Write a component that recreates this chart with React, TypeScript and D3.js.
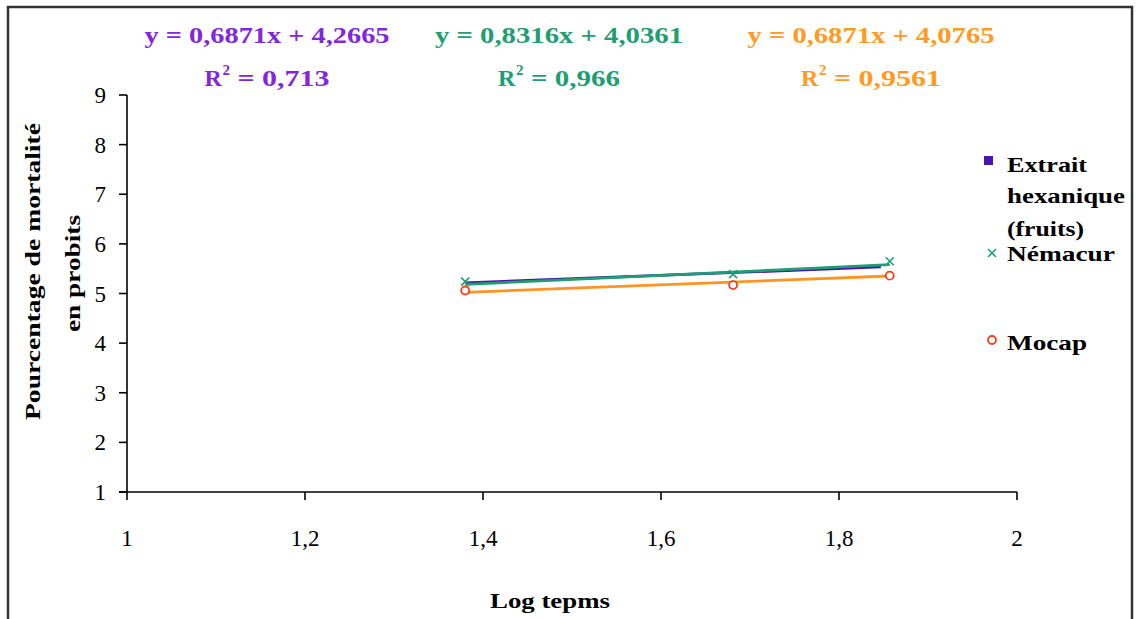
import React from "react";
import * as d3 from "d3";

const logTime = [1.38, 1.681, 1.857];
const seriesNames = ["Extrait hexanique (fruits)", "Némacur", "Mocap"];
const nemacurValues = [5.24, 5.39, 5.65];
const mocapValues = [5.06, 5.17, 5.36];
const slopes = [0.6871, 0.8316, 0.6871];
const intercepts = [4.2665, 4.0361, 4.0765];
const equationLabels = ["y = 0,6871x + 4,2665", "y = 0,8316x + 4,0361", "y = 0,6871x + 4,0765"];
const r2Labels = ["0,713", "0,966", "0,9561"];
const xTicks = [1, 1.2, 1.4, 1.6, 1.8, 2];
const yTicks = [1, 2, 3, 4, 5, 6, 7, 8, 9];

const W = 1140;
const H = 619;
const lineColors = ["#4A12B0", "#1E9E72", "#FF9422"];
const textColors = ["#8426DC", "#1E9E72", "#FF9A22"];
const font = "'Liberation Serif', 'Times New Roman', serif";

export default function App() {
  const x = d3.scaleLinear().domain([1, 2]).range([127, 1017]);
  const y = d3.scaleLinear().domain([1, 9]).range([492, 95]);
  const fmt = (v: number) => String(v).replace(".", ",");
  const trendX = [logTime[0], logTime[logTime.length - 1]];
  const trendEnd = [logTime[logTime.length - 1] - 0.01, logTime[logTime.length - 1], logTime[logTime.length - 1]];
  const eqX = [267, 559, 871];
  const eqW = [245, 248, 247];
  const r2W = [125, 122, 140];

  return (
    <div style={{ position: "absolute", left: 0, top: 0 }}>
      <svg width={W} height={H} style={{ display: "block", background: "#fff" }}>
        <rect x={8} y={7} width={1124} height={640} fill="#fff" stroke="#333" strokeWidth={2.5} />

        {/* equations */}
        {equationLabels.map((t, i) => (
          <g key={i} fontFamily={font} fontWeight="bold" fill={textColors[i]}>
            <text x={eqX[i] - eqW[i] / 2} y={43} fontSize={23} textLength={eqW[i]} lengthAdjust="spacingAndGlyphs">{t}</text>
            <g transform={`translate(${eqX[i] - r2W[i] / 2},86)`}>
              <text x={0} y={0} fontSize={24}>R</text>
              <text x={18} y={-11} fontSize={15}>2</text>
              <text x={33} y={0} fontSize={24} textLength={r2W[i] - 33} lengthAdjust="spacingAndGlyphs">{"= " + r2Labels[i]}</text>
            </g>
          </g>
        ))}

        {/* axes */}
        <g stroke="#000" strokeWidth={1.6}>
          <line x1={x(1)} x2={x(1)} y1={y(9)} y2={y(1)} />
          <line x1={x(1) - 8} x2={x(2)} y1={y(1)} y2={y(1)} />
          {yTicks.map((t) => (
            <line key={t} x1={x(1) - 8} x2={x(1)} y1={y(t)} y2={y(t)} />
          ))}
          {xTicks.map((t) => (
            <line key={t} x1={x(t)} x2={x(t)} y1={y(1)} y2={y(1) + 8} />
          ))}
        </g>
        <g fontFamily={font} fontSize={23} fill="#000">
          {yTicks.map((t) => (
            <text key={t} x={106} y={y(t) + 8} textAnchor="end">{t}</text>
          ))}
          {xTicks.map((t) => (
            <text key={t} x={x(t)} y={546} textAnchor="middle">{fmt(t)}</text>
          ))}
        </g>
        <text x={490} y={608} fontFamily={font} fontSize={22} fontWeight="bold" textLength={120} lengthAdjust="spacingAndGlyphs">Log tepms</text>
        <g fontFamily={font} fontSize={22} fontWeight="bold">
          <text transform={`translate(40,420) rotate(-90)`} textLength={297} lengthAdjust="spacingAndGlyphs">Pourcentage de mortalité</text>
          <text transform={`translate(80,332) rotate(-90)`} textLength={117} lengthAdjust="spacingAndGlyphs">en probits</text>
        </g>

        {/* trendlines */}
        {slopes.map((s, i) => (
          <line
            key={i}
            x1={x(trendX[0])}
            x2={x(trendEnd[i])}
            y1={y(s * trendX[0] + intercepts[i])}
            y2={y(s * trendEnd[i] + intercepts[i])}
            stroke={lineColors[i]}
            strokeWidth={2.8}
          />
        ))}

        {/* Némacur markers */}
        {logTime.map((t, i) => {
          const cx = x(t), cy = y(nemacurValues[i]);
          return (
            <g key={"n" + i} stroke="#1E9E72" strokeWidth={1.6}>
              <line x1={cx - 4} x2={cx + 4} y1={cy - 4} y2={cy + 4} />
              <line x1={cx - 4} x2={cx + 4} y1={cy + 4} y2={cy - 4} />
            </g>
          );
        })}
        {/* Mocap markers */}
        {logTime.map((t, i) => (
          <circle key={"m" + i} cx={x(t)} cy={y(mocapValues[i])} r={4} fill="#fff" stroke="#FF3A1A" strokeWidth={1.8} />
        ))}

        {/* legend */}
        <g fontFamily={font} fontSize={22} fontWeight="bold" fill="#000">
          <rect x={984} y={156} width={9} height={9} fill="#4A12B0" />
          <text x={1007} y={172} textLength={80} lengthAdjust="spacingAndGlyphs">Extrait</text>
          <text x={1007} y={203} textLength={118} lengthAdjust="spacingAndGlyphs">hexanique</text>
          <text x={1007} y={236} textLength={77} lengthAdjust="spacingAndGlyphs">(fruits)</text>
          <g stroke="#1E9E72" strokeWidth={1.6}>
            <line x1={988} x2={996} y1={249} y2={257} />
            <line x1={988} x2={996} y1={257} y2={249} />
          </g>
          <text x={1007} y={261} textLength={108} lengthAdjust="spacingAndGlyphs">{seriesNames[1]}</text>
          <circle cx={992} cy={340} r={4} fill="#fff" stroke="#FF3A1A" strokeWidth={1.8} />
          <text x={1007} y={350} textLength={80} lengthAdjust="spacingAndGlyphs">{seriesNames[2]}</text>
        </g>
      </svg>
    </div>
  );
}
